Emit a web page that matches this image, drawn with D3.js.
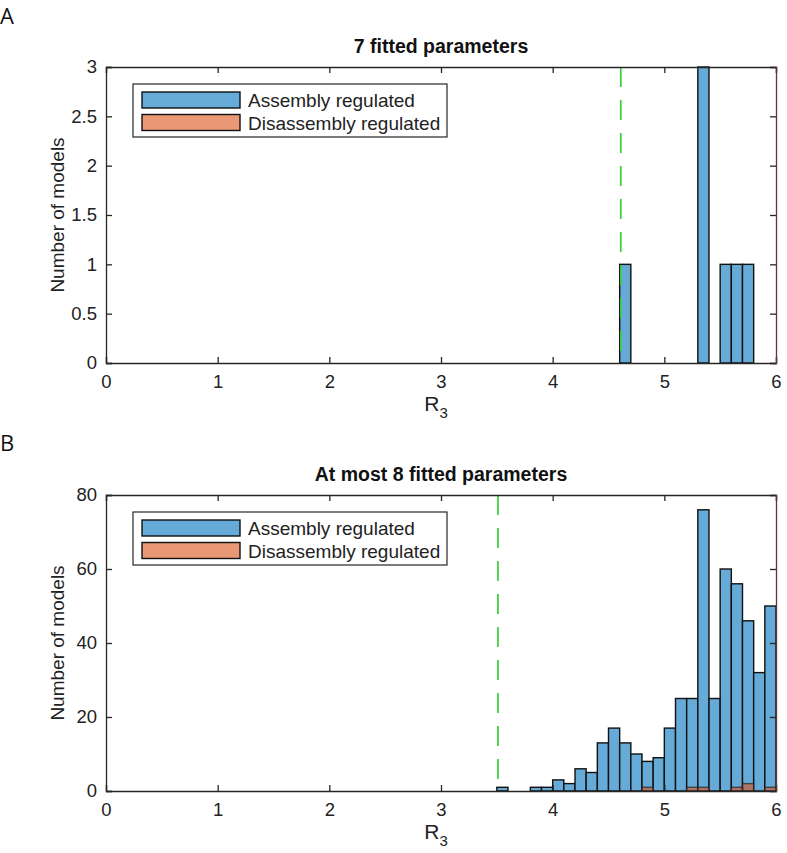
<!DOCTYPE html>
<html><head><meta charset="utf-8">
<script src="https://cdn.jsdelivr.net/npm/d3@7"></script>
<style>body{margin:0;background:#fff}</style>
</head><body>
<script>
// ---- data ----
const binWidth = 0.1;
const binStarts = d3.range(60).map(i => +(i * binWidth).toFixed(1));
// Panel A (7 fitted parameters): non-zero bins
const assemblyA = {4.6: 1, 5.3: 3, 5.5: 1, 5.6: 1, 5.7: 1};
const disassemblyA = {};
const thresholdA = 4.61;
// Panel B (at most 8 fitted parameters)
const assemblyB = {3.5: 1, 3.8: 1, 3.9: 1, 4.0: 3, 4.1: 2, 4.2: 6, 4.3: 5, 4.4: 13, 4.5: 17, 4.6: 13,
  4.7: 10, 4.8: 8, 4.9: 9, 5.0: 17, 5.1: 25, 5.2: 25, 5.3: 76, 5.4: 25, 5.5: 60, 5.6: 56,
  5.7: 46, 5.8: 32, 5.9: 50};
const disassemblyB = {4.8: 1, 5.2: 1, 5.3: 1, 5.6: 1, 5.7: 2, 5.9: 1};
const thresholdB = 3.51;
const titles = ["7 fitted parameters", "At most 8 fitted parameters"];
const panelLabels = ["A", "B"];
const yTicksA = [0, 0.5, 1, 1.5, 2, 2.5, 3];
const yTicksB = [0, 20, 40, 60, 80];
const xTicks = [0, 1, 2, 3, 4, 5, 6];
const legendLabels = ["Assembly regulated", "Disassembly regulated"];

// ---- layout ----
const W = 787, H = 853;
const svg = d3.select("body").append("svg").attr("width", W).attr("height", H);
const blue = "#66aad7", orangeBase = "#d95319";
const tickFont = "'Liberation Sans',Arial,sans-serif";
const font = "'Liberation Sans',Arial,sans-serif";

const panels = [
  {top: 67, bottom: 363, yMax: 3, yTicks: yTicksA, asm: assemblyA, dis: disassemblyA,
   thr: thresholdA, title: titles[0], label: panelLabels[0], labelY: 24, legTop: 84},
  {top: 495, bottom: 791, yMax: 80, yTicks: yTicksB, asm: assemblyB, dis: disassemblyB,
   thr: thresholdB, title: titles[1], label: panelLabels[1], labelY: 451, legTop: 512}
];

const x = d3.scaleLinear().domain([0, 6]).range([106, 776]);

panels.forEach(p => {
  const y = d3.scaleLinear().domain([0, p.yMax]).range([p.bottom, p.top]);
  const g = svg.append("g");

  // panel label
  svg.append("text").attr("x", 0).attr("y", p.labelY).text(p.label)
    .attr("font-family", "'Open Sans',sans-serif").attr("font-size", 22).attr("fill", "#111");

  // bars
  const asmData = binStarts.map(b => ({b, v: p.asm[b] || 0}));
  g.selectAll("rect.asm").data(asmData).join("rect").attr("class", "asm")
    .attr("x", d => x(d.b)).attr("width", d => x(d.b + binWidth) - x(d.b))
    .attr("y", d => y(d.v)).attr("height", d => y(0) - y(d.v))
    .attr("fill", blue).attr("stroke", "#111").attr("stroke-width", 1.4);
  const disData = binStarts.map(b => ({b, v: p.dis[b] || 0}));
  g.selectAll("rect.dis").data(disData).join("rect").attr("class", "dis")
    .attr("x", d => x(d.b)).attr("width", d => x(d.b + binWidth) - x(d.b))
    .attr("y", d => y(d.v)).attr("height", d => y(0) - y(d.v))
    .attr("fill", orangeBase).attr("fill-opacity", 0.6)
    .attr("stroke", "#222").attr("stroke-width", d => d.v > 0 ? 1.4 : 0.6).attr("stroke-opacity", 0.7);

  // threshold
  g.append("line").attr("x1", x(p.thr)).attr("x2", x(p.thr))
    .attr("y1", p.top).attr("y2", p.bottom)
    .attr("stroke", "#36d036").attr("stroke-width", 1.7).attr("stroke-dasharray", "20,13");

  // axes
  const axisColor = "#262626";
  const xb = g.append("g").attr("transform", `translate(0,${p.bottom})`)
    .call(d3.axisBottom(x).tickValues(xTicks).tickSize(-6).tickPadding(11).tickFormat(d3.format("d")));
  const xt = g.append("g").attr("transform", `translate(0,${p.top})`)
    .call(d3.axisTop(x).tickValues(xTicks).tickSize(-6).tickFormat(""));
  const yl = g.append("g").attr("transform", `translate(106,0)`)
    .call(d3.axisLeft(y).tickValues(p.yTicks).tickSize(-6).tickPadding(9).tickFormat(d3.format("")));
  const yr = g.append("g").attr("transform", `translate(776,0)`)
    .call(d3.axisRight(y).tickValues(p.yTicks).tickSize(-6).tickFormat(""));
  [xb, xt, yl, yr].forEach(a => {
    a.select(".domain").attr("stroke", axisColor).attr("stroke-width", 1.3);
    a.selectAll(".tick line").attr("stroke", axisColor).attr("stroke-width", 1.3);
    a.selectAll("text").attr("font-family", tickFont).attr("font-size", 18.5).attr("fill", "#222");
  });
  yr.select(".domain").attr("stroke", "#5a3a36");
  xb.selectAll("text").attr("dy", "0.75em");

  // title
  svg.append("text").attr("x", 441).attr("y", p.top - 14).attr("text-anchor", "middle")
    .attr("font-family", font).attr("font-weight", "bold").attr("font-size", 19.5).attr("fill", "#111")
    .text(p.title);

  // y label
  svg.append("text").attr("transform", `translate(64,${(p.top + p.bottom) / 2}) rotate(-90)`)
    .attr("text-anchor", "middle").attr("font-family", font).attr("font-size", 19).attr("fill", "#222")
    .text("Number of models");

  // x label R_3
  const xl = svg.append("text").attr("x", 436).attr("y", p.bottom + 48).attr("text-anchor", "middle")
    .attr("font-family", tickFont).attr("font-size", 21).attr("fill", "#222");
  xl.append("tspan").text("R");
  xl.append("tspan").attr("dy", 7).attr("font-size", 15).text("3");

  // legend
  const lg = svg.append("g");
  lg.append("rect").attr("x", 133).attr("y", p.legTop).attr("width", 314).attr("height", 53)
    .attr("fill", "#fff").attr("stroke", "#262626").attr("stroke-width", 1.2);
  const legFills = [{f: blue, o: 1}, {f: orangeBase, o: 0.6}];
  legendLabels.forEach((t, i) => {
    const yy = p.legTop + 8 + i * 22.5;
    lg.append("rect").attr("x", 142).attr("y", yy).attr("width", 98).attr("height", 16)
      .attr("fill", legFills[i].f).attr("fill-opacity", legFills[i].o)
      .attr("stroke", "#111").attr("stroke-width", 1.4);
    lg.append("text").attr("x", 248).attr("y", yy + 15).text(t)
      .attr("font-family", font).attr("font-size", 19).attr("fill", "#222");
  });
});
</script>
</body></html>
